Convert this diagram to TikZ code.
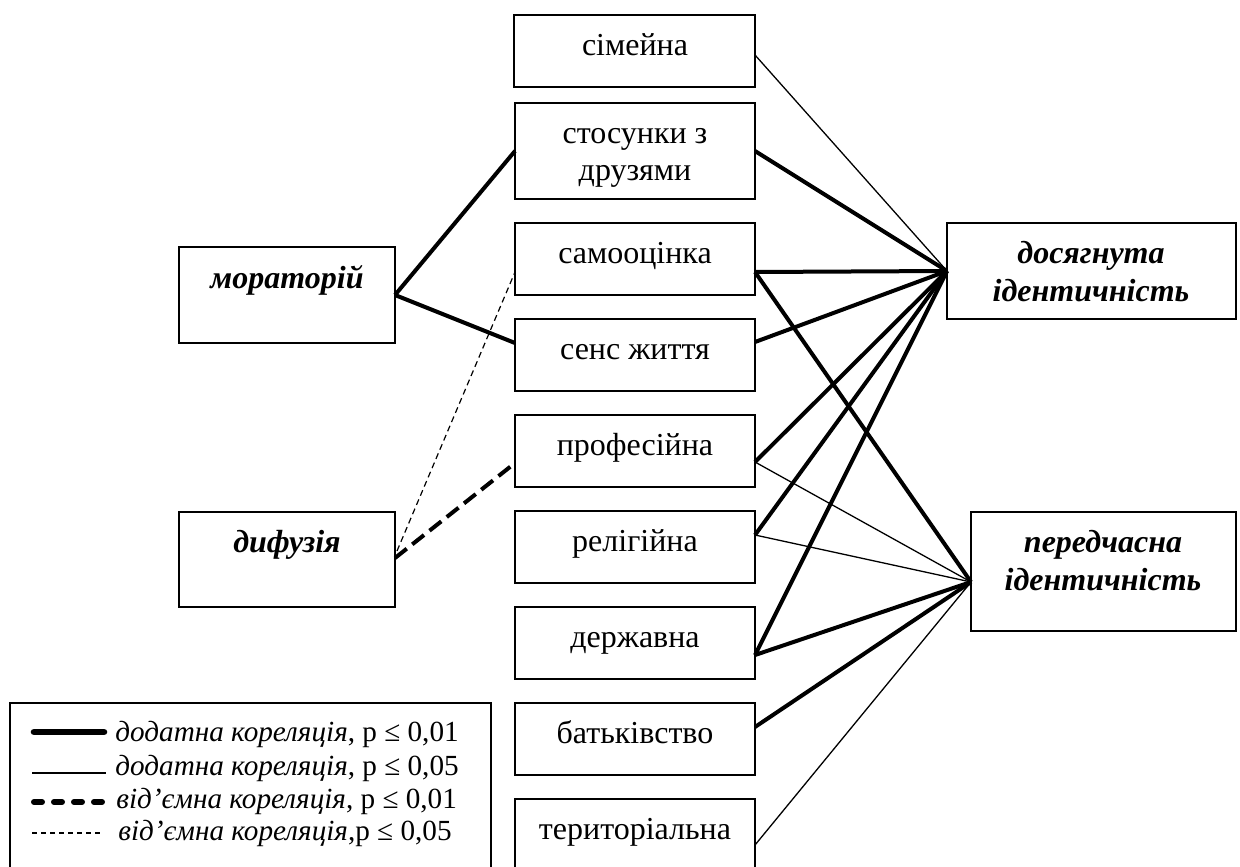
\documentclass[tikz,border=0pt]{standalone}
\usepackage{fontspec}
\setmainfont{Liberation Serif}
\usetikzlibrary{fit}
\begin{document}
\begin{tikzpicture}[x=0.5pt,y=-0.5pt,
  box/.style={draw, line width=0.8pt, inner sep=0pt},
  txt/.style={anchor=base, inner sep=0pt, font=\fontsize{16}{19}\selectfont},
  ttl/.style={anchor=base, inner sep=0pt, align=center, font=\fontsize{16}{19}\selectfont\bfseries\itshape},
  leg/.style={anchor=base west, inner sep=0pt, font=\fontsize{14.6}{17}\selectfont},
  strong/.style={line width=2pt},
  weak/.style={line width=0.65pt},
  negstrong/.style={line width=2pt, dash pattern=on 7.5pt off 3.5pt},
  negweak/.style={line width=0.6pt, dash pattern=on 3pt off 2pt}]
\useasboundingbox (0,0) rectangle (1240,866);
\clip (0,0) rectangle (1240,866);
% middle boxes
\node[box, fit={(514,15) (755,87)}] (fam) {};
\node[box, fit={(515,103) (755,199)}] (fri) {};
\node[box, fit={(515,223) (755,295)}] (self) {};
\node[box, fit={(515,319) (755,391)}] (sense) {};
\node[box, fit={(515,415) (755,487)}] (prof) {};
\node[box, fit={(515,511) (755,583)}] (rel) {};
\node[box, fit={(515,607) (755,679)}] (state) {};
\node[box, fit={(515,703) (755,775)}] (par) {};
\node[box, fit={(515,799) (755,871)}] (terr) {};
\node[txt] (famT) at (635,55.5) {сімейна};
\node[txt] (friT1) at (635,143.5) {стосунки з};
\node[txt] (friT2) at (635,180.5) {друзями};
\node[txt] (selfT) at (635,263.5) {самооцінка};
\node[txt] (senseT) at (635,359.5) {сенс життя};
\node[txt] (profT) at (635,455.5) {професійна};
\node[txt] (relT) at (635,551.5) {релігійна};
\node[txt] (stateT) at (635,647.5) {державна};
\node[txt] (parT) at (635,743.5) {батьківство};
\node[txt] (terrT) at (635,839.5) {територіальна};
% left boxes
\node[box, fit={(179,247) (395,343)}] (mor) {};
\node[box, fit={(179,512) (395,607)}] (dif) {};
\node[ttl] (morT) at (287,288) {мораторій};
\node[ttl] (difT) at (287,552) {дифузія};
% right boxes
\node[box, fit={(947,223) (1236,319)}] (dos) {};
\node[box, fit={(971,512) (1236,631)}] (per) {};
\node[ttl] (dosT1) at (1091,263) {досягнута};
\node[ttl] (dosT2) at (1091,301) {ідентичність};
\node[ttl] (perT1) at (1103,552) {передчасна};
\node[ttl] (perT2) at (1103,590) {ідентичність};
% connection points
\coordinate (morR) at (395,295);
\coordinate (difRa) at (397,551);
\coordinate (difRb) at (395,558);
\coordinate (friL) at (515,151);
\coordinate (senseL) at (515,343);
\coordinate (selfL) at (515,272);
\coordinate (profL) at (515,463);
\coordinate (famR) at (755,55);
\coordinate (friR) at (755,151);
\coordinate (selfR) at (755,272);
\coordinate (senseR) at (755,342);
\coordinate (profR) at (755,462);
\coordinate (relR) at (755,535);
\coordinate (stateR) at (755,655);
\coordinate (parR) at (755,727);
\coordinate (terrR) at (755,845);
\coordinate (dosL) at (947,271);
\coordinate (perL) at (971,582);
% left connectors
\draw[strong] (morR) -- (friL);
\draw[strong] (morR) -- (senseL);
\draw[negweak] (difRa) -- (selfL);
\draw[negstrong] (difRb) -- (profL);
% right connectors
\draw[weak] (famR) -- (dosL);
\draw[strong] (friR) -- (dosL);
\draw[strong] (selfR) -- (dosL);
\draw[strong] (selfR) -- (perL);
\draw[strong] (senseR) -- (dosL);
\draw[strong] (profR) -- (dosL);
\draw[weak] (profR) -- (perL);
\draw[strong] (relR) -- (dosL);
\draw[weak] (relR) -- (perL);
\draw[strong] (stateR) -- (dosL);
\draw[strong] (stateR) -- (perL);
\draw[strong] (parR) -- (perL);
\draw[weak] (terrR) -- (perL);
% legend
\node[box, fit={(10,703) (491,880)}] (legend) {};
\coordinate (l1a) at (34,732); \coordinate (l1b) at (104,732);
\coordinate (l2a) at (32,773); \coordinate (l2b) at (106,773);
\coordinate (l3a) at (34,802); \coordinate (l3b) at (106,802);
\coordinate (l4a) at (32,833); \coordinate (l4b) at (101,833);
\draw[line width=3.3pt, line cap=round] (l1a) -- (l1b);
\draw[weak] (l2a) -- (l2b);
\draw[line width=3pt, line cap=round, dash pattern=on 4pt off 6pt] (l3a) -- (l3b);
\draw[line width=0.6pt, dash pattern=on 2.5pt off 2pt] (l4a) -- (l4b);
\node[leg] (leg1) at (115,741) {\textit{додатна кореляція}, p ≤ 0,01};
\node[leg] (leg2) at (115,775) {\textit{додатна кореляція}, p ≤ 0,05};
\node[leg] (leg3) at (116,808) {\textit{від’ємна кореляція}, p ≤ 0,01};
\node[leg] (leg4) at (118,840) {\textit{від’ємна кореляція},p ≤ 0,05};
\end{tikzpicture}
\end{document}
